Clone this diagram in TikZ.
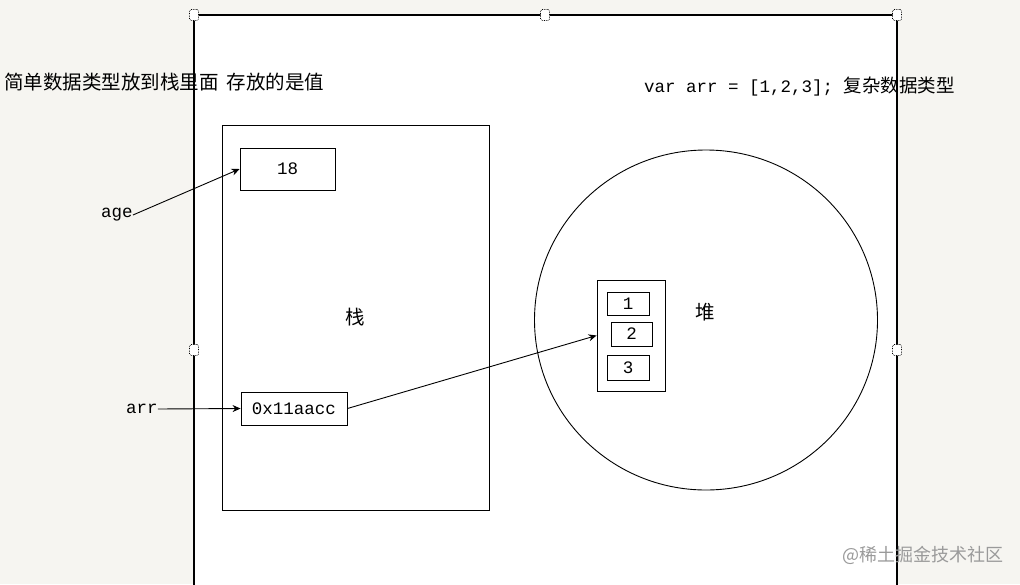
\documentclass[tikz,border=0pt]{standalone}
\usepackage{fontspec}
\setmainfont{Liberation Mono}
\newfontfamily\cjk{Noto Sans CJK SC}
\usetikzlibrary{arrows.meta}
\definecolor{bggray}{HTML}{F6F5F1}
\definecolor{wmgray}{HTML}{9A9A9A}
\tikzset{
  box/.style={draw=black, line width=0.9pt, fill=white, inner sep=0pt, font=\fontsize{17.5}{20}\selectfont},
  handle/.style={draw=black, densely dotted, line width=0.7pt, rounded corners=1.5pt, fill=white, minimum width=9pt, minimum height=11pt, inner sep=0pt},
  lbl/.style={inner sep=0pt, font=\fontsize{17.5}{20}\selectfont},
  cjklbl/.style={inner sep=0pt, font=\cjk\fontsize{19.5}{22}\selectfont},
  arr/.style={draw=black, line width=0.9pt, -{Stealth[length=8pt,width=7pt]}},
}
\begin{document}
\begin{tikzpicture}[x=1pt,y=-1pt]
\useasboundingbox (0,0) rectangle (1020,584);
\fill[bggray] (0,0) rectangle (1020,584);
% canvas
\fill[white] (194,15) rectangle (897,590);
\draw[line width=1.6pt] (194,590) -- (194,15) -- (897,15) -- (897,590);
% handles
\node[handle] (h1) at (194,15) {};
\node[handle] (h2) at (545,15) {};
\node[handle] (h3) at (897,15) {};
\node[handle] (h4) at (194,350) {};
\node[handle] (h5) at (897,350) {};
% titles
\node[cjklbl, anchor=west] (t1) at (4,82) {简单数据类型放到栈里面\hspace{8pt}存放的是值};
\node[lbl, anchor=west] (t2) at (644,87) {var arr = [1,2,3]; {\cjk\fontsize{18.5}{22}\selectfont 复杂数据类型}};
% stack
\node[box, minimum width=267pt, minimum height=385pt] (stack) at (355.5,317.5) {};
\node[cjklbl] (zhan) at (355,317) {栈};
\node[box, minimum width=95pt, minimum height=42pt] (b18) at (287.5,169) {18};
\node[box, minimum width=106pt, minimum height=33pt] (baddr) at (294,408.5) {0x11aacc};
\node[lbl] (age) at (117,215) {age};
\node[lbl] (arrl) at (142,409) {arr};
\draw[arr] (age.east) -- (b18.west);
\draw[arr] (arrl.east) -- (baddr.west);
% heap
\draw[line width=0.9pt] (706,320) ellipse [x radius=171.5, y radius=170];
\node[cjklbl] (dui) at (705,312) {堆};
\node[box, minimum width=68pt, minimum height=111pt] (heap) at (631,335.5) {};
\node[box, minimum width=42pt, minimum height=23pt] (e1) at (628,303.5) {1};
\node[box, minimum width=41pt, minimum height=24pt] (e2) at (631.5,334) {2};
\node[box, minimum width=42pt, minimum height=25pt] (e3) at (628,367.5) {3};
\draw[arr] (baddr.east) -- (heap.west);
% watermark
\node[inner sep=0pt, anchor=east, text=wmgray, font=\cjk\fontsize{18}{20}\selectfont] (wm) at (1004,555) {@稀土掘金技术社区};
\end{tikzpicture}
\end{document}
